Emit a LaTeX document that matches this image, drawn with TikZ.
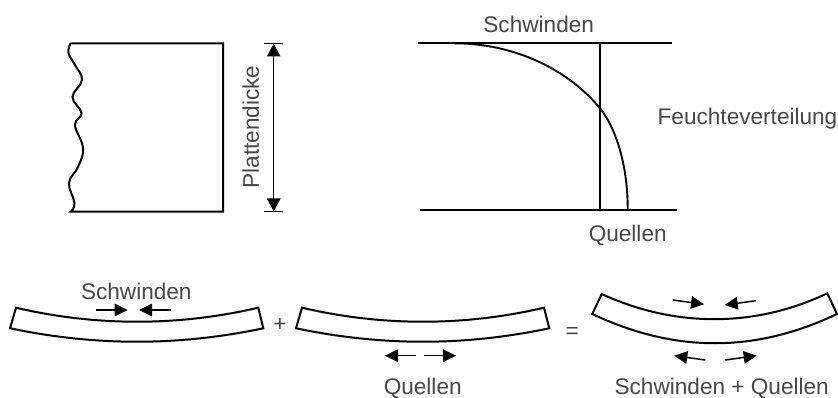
\documentclass[tikz,border=0pt]{standalone}
\usepackage{fontspec}
\setmainfont{Liberation Sans}
\usetikzlibrary{arrows.meta}
\definecolor{txt}{gray}{0.28}
\tikzset{
  px/.style={x=1pt,y=-1pt},
  lab/.style={text=txt,font=\fontsize{22.6}{26}\selectfont,inner sep=0pt,anchor=base},
  body/.style={draw=black,line width=2pt,line join=miter},
  rule/.style={draw=black,line width=1.9pt},
  force/.style={draw=black,line width=1.5pt,-{Triangle[length=13pt,width=12.5pt]}},
  dim/.style={draw=black,line width=1.3pt,{Triangle[length=13pt,width=13.5pt]}-{Triangle[length=13pt,width=13.5pt]}},
}
\begin{document}
\begin{tikzpicture}[px]
\useasboundingbox (0,0) rectangle (838,398);
% plate
\coordinate (pTL) at (70.7,43.3);
\coordinate (pTR) at (223,43.3);
\coordinate (pBR) at (223,211.7);
\coordinate (pBL) at (70.7,211.7);
\draw[body] plot[smooth,tension=0.7] coordinates {(70.7,43.3)(68.5,53)(75,65)(82,80)(72.5,97)(81.5,113)(75,125)(83,148)(78,167)(69,183)(74.5,203)(70.7,211.7)}
  -- (pBR) -- (pTR) -- (pTL);
% thickness dimension
\coordinate (dTop) at (273.7,43.5);
\coordinate (dBot) at (273.7,211.5);
\draw[rule,line width=1pt] (264,43.5) -- (283,43.5);
\draw[rule,line width=1pt] (264,211.5) -- (283,211.5);
\draw[dim] (dTop) -- (dBot);
\node[lab,rotate=90,anchor=center] (pd) at (250.7,127) {Plattendicke};
% moisture distribution
\coordinate (t1) at (418,43.3);
\coordinate (t2) at (672,43.3);
\coordinate (b1) at (420,210.3);
\coordinate (b2) at (677,210.3);
\draw[rule] (t1) -- (t2);
\draw[rule] (b1) -- (b2);
\draw[rule] (599.7,43.3) -- (599.7,210.3);
\draw[rule] (455,43.3) .. controls (510,43.5) and (565,66) .. (600,108.3) .. controls (618,131) and (628,170) .. (627.7,210.3);
\node[lab] (s1) at (538.7,33) {Schwinden};
\node[lab] (q1) at (627.7,241.7) {Quellen};
\node[lab] (fv) at (747.5,125) {Feuchteverteilung};
% beam 1
\draw[body] (16,307.7) .. controls (96,326.4) and (178,326.4) .. (258.3,307.7)
  -- (263.3,328.3) .. controls (178,346.2) and (96,346.2) .. (10,328.3) -- cycle;
\node[lab] (s2) at (136.3,299) {Schwinden};
\draw[force] (96,310) -- (127.7,310);
\draw[force] (170.7,310) -- (139,310);
\node[lab] (plus) at (280,331) {+};
% beam 2
\draw[body] (302,307.7) .. controls (382,326.4) and (464,326.4) .. (544,307.7)
  -- (549.3,328.3) .. controls (464,346.2) and (382,346.2) .. (296,328.3) -- cycle;
\draw[force] (416,355.7) -- (385,355.7);
\draw[force] (424.3,355.7) -- (456,355.7);
\node[lab] (q2) at (422.7,394) {Quellen};
\node[lab] (eq) at (572.3,338) {=};
% beam 3
\draw[body] (601.7,294) .. controls (675,327.7) and (755,327.7) .. (827.3,293.3)
  -- (837,314) .. controls (755,353) and (675,353) .. (592.3,314) -- cycle;
\draw[force] (672.7,300) -- (704,304.3);
\draw[force] (756,300.7) -- (724.7,305);
\draw[force] (705.3,360) -- (674.3,355.7);
\draw[force] (725,360) -- (756.7,355.7);
\node[lab] (s3) at (721.7,394) {Schwinden + Quellen};
\end{tikzpicture}
\end{document}
